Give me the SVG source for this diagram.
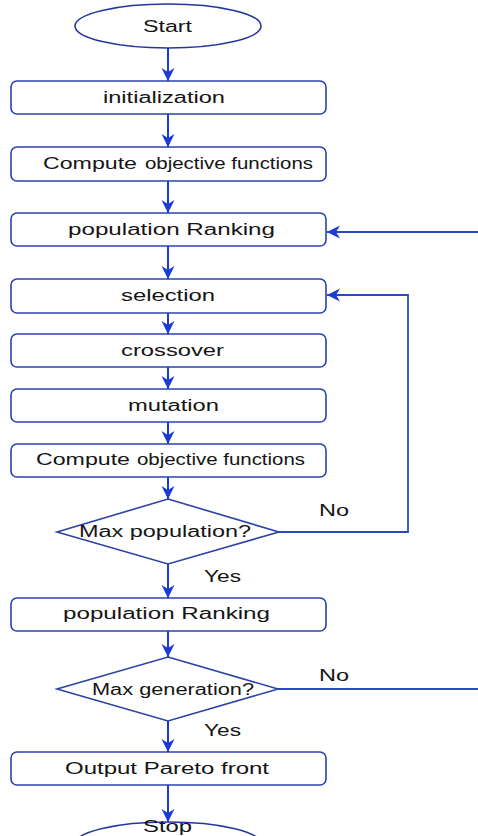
<svg xmlns="http://www.w3.org/2000/svg" width="478" height="836" viewBox="0 0 478 836">
<style>
.box{fill:#fff;stroke:#2a43b0;stroke-width:1.6}
.term{fill:#fff;stroke:#24389a;stroke-width:1.6}
.dia{fill:#fff;stroke:#2a43a8;stroke-width:1.6}
.t{font-family:"Liberation Sans",Arial,sans-serif;font-size:16px;fill:#151515}
.c{stroke:#1a3bd4;stroke-width:2;fill:none}
.fb{stroke:#2a4ac0;stroke-width:1.8;fill:none}
</style>
<defs>
<marker id="ah" markerUnits="userSpaceOnUse" markerWidth="15" markerHeight="15" refX="13" refY="7.5" orient="auto">
<path d="M0,1 L13,7.5 L0,14 L4,7.5 z" fill="#1a3bd4"/>
</marker>
</defs>
<rect width="478" height="836" fill="#fff"/>
<g id="connectors">
<line class="c" x1="168" y1="48" x2="168" y2="81" marker-end="url(#ah)"/>
<line class="c" x1="168" y1="114" x2="168" y2="147" marker-end="url(#ah)"/>
<line class="c" x1="168" y1="181" x2="168" y2="213" marker-end="url(#ah)"/>
<line class="c" x1="168" y1="246" x2="168" y2="279" marker-end="url(#ah)"/>
<line class="c" x1="168" y1="313" x2="168" y2="334" marker-end="url(#ah)"/>
<line class="c" x1="168" y1="367" x2="168" y2="389" marker-end="url(#ah)"/>
<line class="c" x1="168" y1="422" x2="168" y2="444" marker-end="url(#ah)"/>
<line class="c" x1="168" y1="477" x2="168" y2="499" marker-end="url(#ah)"/>
<line class="c" x1="168" y1="564" x2="168" y2="598" marker-end="url(#ah)"/>
<line class="c" x1="168" y1="631" x2="168" y2="657" marker-end="url(#ah)"/>
<line class="c" x1="168" y1="721" x2="168" y2="752" marker-end="url(#ah)"/>
<line class="c" x1="168" y1="785" x2="168" y2="822" marker-end="url(#ah)"/>
<polyline class="fb" points="279,532 408,532 408,295 327,295" marker-end="url(#ah)"/>
<line class="fb" x1="478" y1="232" x2="327" y2="232" marker-end="url(#ah)"/>
<line class="fb" x1="278" y1="689" x2="478" y2="689"/>
<text class="t" x="319" y="516" textLength="30" lengthAdjust="spacingAndGlyphs">No</text>
<text class="t" x="204" y="582" textLength="37" lengthAdjust="spacingAndGlyphs">Yes</text>
<text class="t" x="319" y="681" textLength="30" lengthAdjust="spacingAndGlyphs">No</text>
<text class="t" x="204" y="736" textLength="37" lengthAdjust="spacingAndGlyphs">Yes</text>
</g>
<g id="start">
<ellipse class="term" cx="168" cy="26" rx="93" ry="22"/>
<text class="t" x="143" y="32" textLength="49" lengthAdjust="spacingAndGlyphs">Start</text>
</g>
<g id="init">
<rect class="box" x="11" y="81" width="315" height="33" rx="6"/>
<text class="t" x="103" y="103" textLength="122" lengthAdjust="spacingAndGlyphs">initialization</text>
</g>
<g id="compute1">
<rect class="box" x="11" y="147" width="315" height="34" rx="6"/>
<text class="t" x="43" y="169" font-size="15" textLength="94" lengthAdjust="spacingAndGlyphs">Compute</text>
<text class="t" x="145" y="169" font-size="17" textLength="168" lengthAdjust="spacingAndGlyphs">objective functions</text>
</g>
<g id="ranking1">
<rect class="box" x="11" y="213" width="315" height="33" rx="6"/>
<text class="t" x="68" y="235" textLength="207" lengthAdjust="spacingAndGlyphs">population  Ranking</text>
</g>
<g id="selection">
<rect class="box" x="11" y="279" width="315" height="34" rx="6"/>
<text class="t" x="121" y="301" textLength="94" lengthAdjust="spacingAndGlyphs">selection</text>
</g>
<g id="crossover">
<rect class="box" x="11" y="334" width="315" height="33" rx="6"/>
<text class="t" x="121" y="356" textLength="103" lengthAdjust="spacingAndGlyphs">crossover</text>
</g>
<g id="mutation">
<rect class="box" x="11" y="389" width="315" height="33" rx="6"/>
<text class="t" x="128" y="411" textLength="91" lengthAdjust="spacingAndGlyphs">mutation</text>
</g>
<g id="compute2">
<rect class="box" x="11" y="444" width="315" height="33" rx="6"/>
<text class="t" x="36" y="465" font-size="15" textLength="94" lengthAdjust="spacingAndGlyphs">Compute</text>
<text class="t" x="137" y="465" font-size="17" textLength="168" lengthAdjust="spacingAndGlyphs">objective functions</text>
</g>
<g id="maxpop">
<polygon class="dia" points="168,499 279,532 168,564 57,532"/>
<text class="t" x="79" y="537" textLength="172" lengthAdjust="spacingAndGlyphs">Max population?</text>
</g>
<g id="ranking2">
<rect class="box" x="11" y="598" width="315" height="33" rx="6"/>
<text class="t" x="63" y="619" textLength="207" lengthAdjust="spacingAndGlyphs">population  Ranking</text>
</g>
<g id="maxgen">
<polygon class="dia" points="168,657 278,689 168,721 57,689"/>
<text class="t" x="92" y="695" textLength="162" lengthAdjust="spacingAndGlyphs">Max generation?</text>
</g>
<g id="output">
<rect class="box" x="11" y="752" width="315" height="33" rx="6"/>
<text class="t" x="65" y="774" textLength="204" lengthAdjust="spacingAndGlyphs">Output Pareto front</text>
</g>
<g id="stop">
<ellipse class="term" cx="168" cy="844" rx="93" ry="22"/>
<text class="t" x="143" y="832" font-size="15" textLength="49" lengthAdjust="spacingAndGlyphs">Stop</text>
</g>
</svg>
